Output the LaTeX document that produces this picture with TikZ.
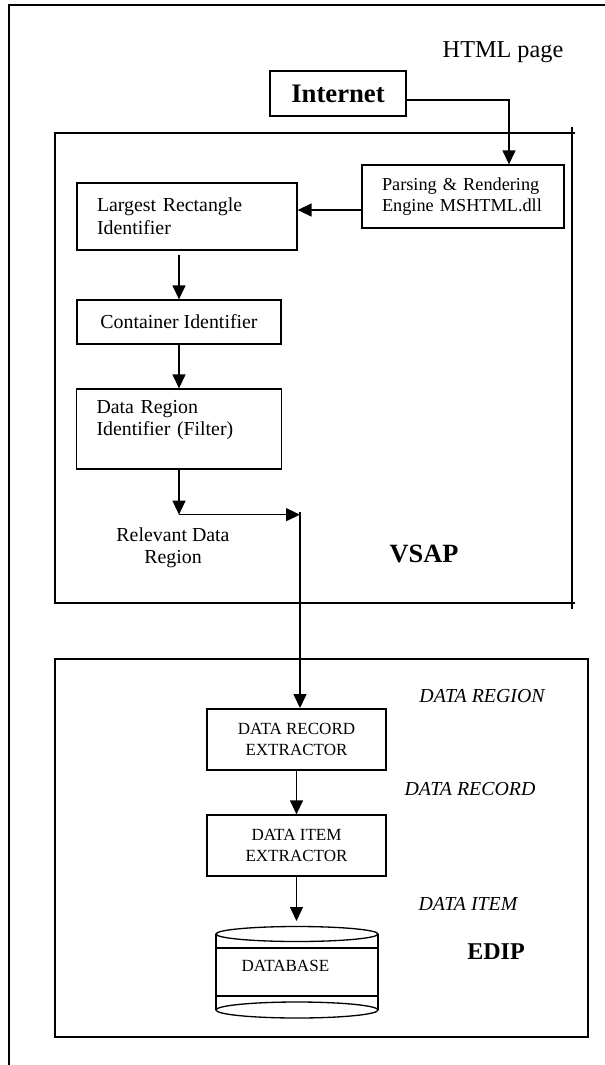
\documentclass[tikz,border=0pt]{standalone}
\usepackage{fontspec}
\setmainfont{Liberation Serif}
\usetikzlibrary{arrows.meta}

\begin{document}
\begin{tikzpicture}[x=0.02cm, y=-0.02cm, line width=.75pt,
  >={Triangle[length=.28cm,width=.26cm]},
  block/.style={draw, rectangle, inner sep=0pt, font=\fontsize{11.3}{13}\selectfont},
  leftblock/.style={block, align=left, inner xsep=.4cm},
  capsblock/.style={block, align=center, minimum width=3.58cm, minimum height=1.22cm, font=\fontsize{9.7}{11.9}\selectfont},
  tag/.style={font=\fontsize{11.3}{13}\selectfont\itshape},
  title/.style={font=\fontsize{14.5}{17}\selectfont\bfseries}]
\useasboundingbox (0,0) rectangle (605,1065);

% frames
\draw (9,1065) -- (9,5) -- (605,5);
\draw (575,133) -- (55,133) -- (55,603) -- (575,603);
\draw (572,127) -- (572,609);
\draw (55,659) rectangle (588,1037);

% VSAP
\node at (503,52) [font=\fontsize{13.8}{16}\selectfont] (html) {HTML page};
\node at (338,93.5) [block, minimum width=2.72cm, minimum height=.9cm, font=\fontsize{15.2}{18}\selectfont\bfseries] (internet) {Internet};
\node at (463,196.5) [leftblock, text width=3.24cm, minimum height=1.26cm, font=\fontsize{10.4}{11.9}\selectfont] (parsing) {Parsing \& Rendering\\Engine MSHTML.dll};
\node at (187,216.5) [leftblock, text width=3.6cm, minimum height=1.34cm] (largest) {Largest Rectangle\\Identifier};
\node at (179,322) [block, minimum width=4.08cm, minimum height=.88cm] (container) {Container Identifier};
\node at (179,429) [leftblock, text width=3.3cm, minimum height=1.6cm, font=\fontsize{11.3}{12.5}\selectfont] (region) {Data Region\\Identifier (Filter)\\ \mbox{}};
\node at (173,548) [align=center, font=\fontsize{11.3}{12.5}\selectfont] (relevant) {Relevant Data\\Region};
\node at (424,554) [title, font=\fontsize{15}{18}\selectfont\bfseries] (vsap) {VSAP};

\draw[->] (internet.east) ++(0,6.5) -| ([xshift=.92cm]parsing.north);
\draw[->] (parsing.west) ++(0,13.5) coordinate (pw) -- (pw -| largest.east);
\draw[->] (largest.south -| container.north) ++(0,4) -- (container.north);
\draw[->] (container.south) -- (region.north);
\draw[->] (region.south) -- ++(0,45) coordinate (bend);
\coordinate (rd) at (300,512);
\draw[->] (bend) -- (bend -| rd);

% EDIP
\node at (296.5,739.5) [capsblock, line width=1.1pt] (record) {DATA RECORD\\EXTRACTOR};
\node at (296.5,845.5) [capsblock] (item) {DATA ITEM\\EXTRACTOR};
\node at (482,696) [tag] (regiontag) {DATA REGION};
\node at (470,789) [tag] (recordtag) {DATA RECORD};
\node at (468,904) [tag] (itemtag) {DATA ITEM};
\node at (496,952) [title, font=\fontsize{13.7}{16}\selectfont\bfseries] (edip) {EDIP};

\draw[->] (rd) -- (rd |- record.north);
\draw[->] (record.south) -- (item.north);
\coordinate (dbtop) at (296.5,921);
\draw[->] (item.south) -- (dbtop);

% database
\draw (216,934) -- (216,1010) (378,934) -- (378,1010);
\draw (297,934) ellipse [x radius=1.62cm, y radius=.15cm];
\draw (216,948) -- (378,948) (216,996) -- (378,996);
\draw (297,1010) ellipse [x radius=1.62cm, y radius=.16cm];
\node at (235,966) [anchor=west, font=\fontsize{9.7}{11.9}\selectfont] (dbase) {DATABASE};
\end{tikzpicture}
\end{document}
